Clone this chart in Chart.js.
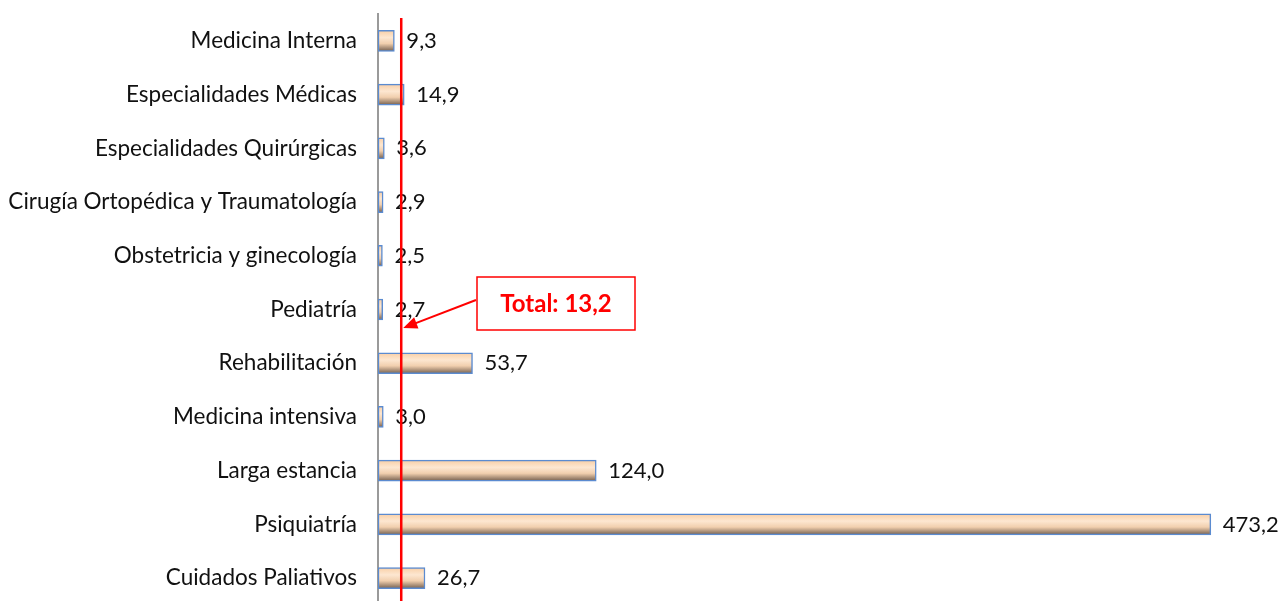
<!DOCTYPE html>
<html>
<head>
<meta charset="utf-8">
<script src="https://cdn.jsdelivr.net/npm/chart.js@4/dist/chart.umd.min.js"></script>
<style>
  html, body { margin: 0; padding: 0; background: #fff; overflow: hidden; }
  #wrap { width: 1280px; height: 606px; }
</style>
</head>
<body>
<div id="wrap"><canvas id="estanciaChart" width="1280" height="606"></canvas></div>
<script>
const categories = [
  "Medicina Interna",
  "Especialidades Médicas",
  "Especialidades Quirúrgicas",
  "Cirugía Ortopédica y Traumatología",
  "Obstetricia y ginecología",
  "Pediatría",
  "Rehabilitación",
  "Medicina intensiva",
  "Larga estancia",
  "Psiquiatría",
  "Cuidados Paliativos"
];
const values = [9.3, 14.9, 3.6, 2.9, 2.5, 2.7, 53.7, 3.0, 124.0, 473.2, 26.7];
const totalValue = 13.2;
const totalLabel = "Total: 13,2";

const FONT = "Lato, 'Open Sans', sans-serif";
const fmt = v => v.toFixed(1).replace(".", ",");

// gradient per bar, built from the y scale position of each category
function barFill(context) {
  const chart = context.chart;
  const yScale = chart.scales.y;
  if (!chart.chartArea || !yScale) return "#fbd9b8";
  const yc = yScale.getPixelForValue(context.dataIndex);
  const g = chart.ctx.createLinearGradient(0, yc - 11, 0, yc + 11);
  g.addColorStop(0, "#f8cda3");
  g.addColorStop(0.35, "#fde7d1");
  g.addColorStop(0.62, "#f1cfae");
  g.addColorStop(1, "#6a5647");
  return g;
}

const valueLabels = {
  id: "valueLabels",
  afterDatasetsDraw(chart) {
    const ctx = chart.ctx;
    const meta = chart.getDatasetMeta(0);
    ctx.save();
    ctx.font = "22px " + FONT;
    ctx.fillStyle = "#111";
    ctx.textBaseline = "middle";
    ctx.textAlign = "left";
    meta.data.forEach((bar, i) => {
      ctx.fillText(fmt(values[i]), bar.x + 12, bar.y);
    });
    ctx.restore();
  }
};

const totalLine = {
  id: "totalLine",
  afterDraw(chart) {
    const ctx = chart.ctx;
    const x = chart.scales.x.getPixelForValue(totalValue);
    ctx.save();
    ctx.strokeStyle = "#ff0000";
    ctx.lineWidth = 2.5;
    ctx.beginPath();
    ctx.moveTo(x, 18);
    ctx.lineTo(x, chart.height);
    ctx.stroke();

    // callout box
    const bx = 477, by = 277, bw = 158, bh = 53;
    ctx.lineWidth = 1.5;
    ctx.strokeRect(bx, by, bw, bh);
    ctx.fillStyle = "#ff0000";
    ctx.font = "bold 24px " + FONT;
    ctx.textAlign = "center";
    ctx.textBaseline = "middle";
    ctx.fillText(totalLabel, bx + bw / 2, by + bh / 2 + 1);

    // arrow
    const sx = bx - 1, sy = 300, tx = x + 2, ty = 328;
    const ang = Math.atan2(ty - sy, tx - sx);
    ctx.lineWidth = 2;
    ctx.beginPath();
    ctx.moveTo(sx, sy);
    ctx.lineTo(tx - 10 * Math.cos(ang), ty - 10 * Math.sin(ang));
    ctx.stroke();
    ctx.beginPath();
    ctx.moveTo(tx, ty);
    ctx.lineTo(tx - 14 * Math.cos(ang) + 6 * Math.sin(ang), ty - 14 * Math.sin(ang) - 6 * Math.cos(ang));
    ctx.lineTo(tx - 14 * Math.cos(ang) - 6 * Math.sin(ang), ty - 14 * Math.sin(ang) + 6 * Math.cos(ang));
    ctx.closePath();
    ctx.fill();
    ctx.restore();
  }
};

new Chart(document.getElementById("estanciaChart"), {
  type: "bar",
  data: {
    labels: categories,
    datasets: [{
      data: values,
      backgroundColor: barFill,
      borderColor: "#5b8bd0",
      borderWidth: 1.5,
      borderSkipped: false,
      barThickness: 21
    }]
  },
  options: {
    indexAxis: "y",
    responsive: false,
    animation: false,
    layout: { padding: { top: 14, right: 22, bottom: 1, left: 0 } },
    plugins: { legend: { display: false }, tooltip: { enabled: false } },
    scales: {
      x: { display: false, min: 0, max: 500 },
      y: {
        afterFit: scale => {
          scale.width = 378;
          scale.paddingTop = 0;
          scale.paddingBottom = 0;
        },
        grid: { display: false, drawTicks: false },
        border: { display: true, color: "#9a9a9a", width: 2 },
        ticks: { color: "#111", font: { family: FONT, size: 22.5 }, padding: 21, autoSkip: false }
      }
    }
  },
  plugins: [valueLabels, totalLine]
});
</script>
</body>
</html>
